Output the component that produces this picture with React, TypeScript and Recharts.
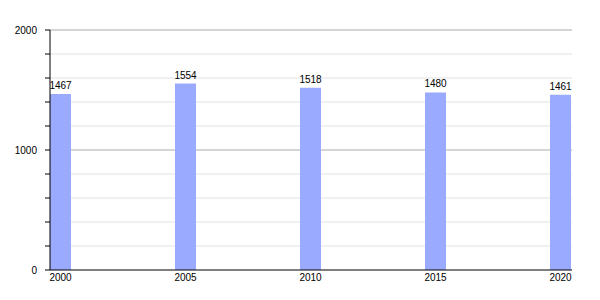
import React from 'react';
import {
  BarChart,
  Bar,
  XAxis,
  YAxis,
  CartesianGrid,
  LabelList
} from 'recharts';

const years = [2000, 2005, 2010, 2015, 2020];
const population = [1467, 1554, 1518, 1480, 1461];
const yTicks = [0, 200, 400, 600, 800, 1000, 1200, 1400, 1600, 1800, 2000];
const minorLines = [200, 400, 600, 800, 1200, 1400, 1600, 1800];
const majorLines = [1000, 2000];

const data = years.map((year, i) => ({ year, value: population[i] }));

const font = { fontFamily: 'Liberation Sans, Arial, sans-serif', fontSize: 10, fill: '#000' };

export default function App() {
  return (
    <div style={{ width: 584, height: 284 }}>
      <BarChart
        width={584}
        height={284}
        data={data}
        margin={{ top: 22, right: 20, left: 0, bottom: 0 }}
      >
        <CartesianGrid vertical={false} horizontalValues={minorLines} stroke="#e2e2e2" />
        <CartesianGrid vertical={false} horizontalValues={majorLines} stroke="#aaaaaa" />
        <XAxis
          dataKey="year"
          type="number"
          domain={[1999.58, 2020.46]}
          ticks={years}
          allowDataOverflow
          tickLine={false}
          tickSize={0}
          tickMargin={4}
          axisLine={{ stroke: '#000' }}
          tick={font}
          height={22}
        />
        <YAxis
          domain={[0, 2000]}
          ticks={yTicks}
          interval={0}
          width={42}
          tickSize={5}
          tickMargin={8}
          axisLine={{ stroke: '#000' }}
          tickLine={{ stroke: '#000' }}
          tick={font}
          tickFormatter={(v: number) => (v % 1000 === 0 ? String(v) : '')}
        />
        <Bar dataKey="value" fill="#99aaff" barSize={21} isAnimationActive={false}>
          <LabelList dataKey="value" position="top" offset={5} style={font} />
        </Bar>
      </BarChart>
    </div>
  );
}
